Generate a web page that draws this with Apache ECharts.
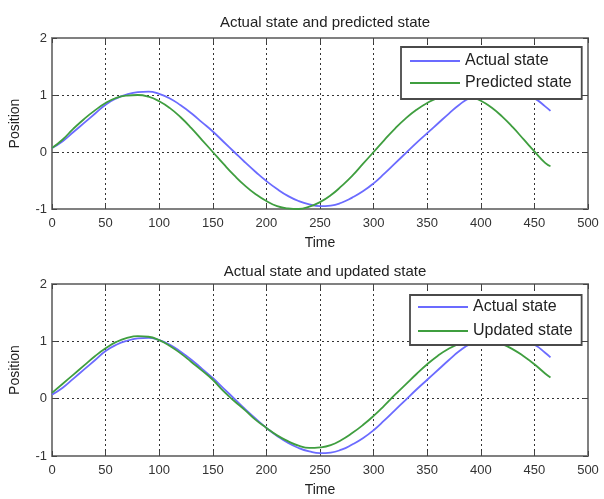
<!DOCTYPE html>
<html><head><meta charset="utf-8">
<script src="https://cdn.jsdelivr.net/npm/echarts@6/dist/echarts.min.js"></script>
<style>html,body{margin:0;padding:0;background:#fff}#c{width:604px;height:499px}</style>
</head><body><div id="c"></div>
<script>
const titles = ['Actual state and predicted state', 'Actual state and updated state'];
const seriesNames = ['Actual state', 'Predicted state', 'Updated state'];
const time = [0,10,20,30,40,50,60,70,80,90,100,110,120,130,140,150,160,170,180,190,200,210,220,230,240,250,260,270,280,290,300,310,320,330,340,350,360,370,380,390,400,410,420,430,440,450,460,465];
const actual = [0.07,0.19,0.35,0.51,0.67,0.83,0.94,1.01,1.05,1.06,1.02,0.94,0.82,0.68,0.52,0.36,0.18,0.0,-0.18,-0.35,-0.51,-0.65,-0.77,-0.86,-0.92,-0.95,-0.94,-0.89,-0.80,-0.69,-0.55,-0.38,-0.20,-0.02,0.16,0.33,0.50,0.67,0.83,0.95,0.99,1.01,1.02,1.01,0.99,0.94,0.80,0.72];
const predicted = [0.07,0.22,0.41,0.58,0.73,0.86,0.95,0.99,1.0,0.97,0.89,0.77,0.61,0.42,0.21,0.0,-0.21,-0.41,-0.59,-0.74,-0.86,-0.95,-0.99,-1.0,-0.96,-0.88,-0.76,-0.6,-0.42,-0.21,0.0,0.21,0.41,0.59,0.74,0.86,0.95,0.99,1.0,0.97,0.9,0.78,0.62,0.43,0.22,0.01,-0.19,-0.25];
const updated = [0.1,0.26,0.42,0.58,0.74,0.88,0.99,1.06,1.09,1.08,1.02,0.92,0.79,0.64,0.49,0.33,0.13,-0.04,-0.2,-0.37,-0.51,-0.64,-0.74,-0.82,-0.86,-0.85,-0.81,-0.72,-0.6,-0.46,-0.3,-0.12,0.07,0.25,0.43,0.6,0.75,0.87,0.96,1.01,1.03,1.01,0.95,0.86,0.74,0.6,0.44,0.37];
const xMin = 0, xMax = 500, xStep = 50;
const yMin = -1, yMax = 2, yStep = 1;

const FONT = 'Liberation Sans, Arial, sans-serif';
const BLUE = '#6b6bff';
const GREEN = '#3f9e3f';
const gridsPos = [{top: 38, bottom: 290}, {top: 284, bottom: 43}];

const pairs = (ys) => time.map((t, i) => [t, ys[i]]);
const option = {
  animation: false,
  backgroundColor: '#fff',
  title: titles.map((t, i) => ({
    text: t, left: 320, textAlign: 'center', top: i === 0 ? 10 : 259,
    textStyle: {fontFamily: FONT, fontSize: 15, fontWeight: 'normal', color: '#222'}
  })),
  grid: gridsPos.map(g => ({left: 52, right: 16, top: g.top, bottom: g.bottom})),
  xAxis: [],
  yAxis: [],
  legend: [
    {data: [seriesNames[0], seriesNames[1]], orient: 'vertical', left: 401, top: 47,
     padding: [6, 10, 8, 9], itemGap: 6, itemWidth: 50, itemHeight: 2, icon: 'rect',
     backgroundColor: '#fff', borderColor: '#4a4a4a', borderWidth: 1.8,
     textStyle: {fontFamily: FONT, fontSize: 16, color: '#222'}},
    {data: [seriesNames[0], seriesNames[2]], orient: 'vertical', left: 410, top: 295,
     padding: [4, 9, 6, 8], itemGap: 8, itemWidth: 50, itemHeight: 2, icon: 'rect',
     backgroundColor: '#fff', borderColor: '#4a4a4a', borderWidth: 1.8,
     textStyle: {fontFamily: FONT, fontSize: 16, color: '#222'}}
  ],
  series: []
};
const lineCol = '#808080';
for (let g = 0; g < 2; g++) {
  option.xAxis.push({
    type: 'value', gridIndex: g, min: xMin, max: xMax, interval: xStep, position: 'bottom',
    name: 'Time', nameLocation: 'middle', nameGap: 27,
    nameTextStyle: {fontFamily: FONT, fontSize: 14, color: '#222'},
    axisLine: {show: true, onZero: false, lineStyle: {color: lineCol, width: 2}},
    axisTick: {show: true, inside: true, length: 5, lineStyle: {color: '#444'}},
    axisLabel: {fontFamily: FONT, fontSize: 13, color: '#333', margin: 8},
    splitLine: {show: true, lineStyle: {color: '#333', type: [2, 3], width: 1}}
  });
  option.xAxis.push({
    type: 'value', gridIndex: g, min: xMin, max: xMax, interval: xStep, position: 'top',
    axisLine: {show: true, onZero: false, lineStyle: {color: lineCol, width: 2}},
    axisTick: {show: true, inside: true, length: 5, lineStyle: {color: '#444'}},
    axisLabel: {show: false}, splitLine: {show: false}
  });
  option.yAxis.push({
    type: 'value', gridIndex: g, min: yMin, max: yMax, interval: yStep, position: 'left',
    name: 'Position', nameLocation: 'middle', nameGap: 30,
    nameTextStyle: {fontFamily: FONT, fontSize: 14, color: '#222'},
    axisLine: {show: true, onZero: false, lineStyle: {color: lineCol, width: 2}},
    axisTick: {show: true, inside: true, length: 5, lineStyle: {color: '#444'}},
    axisLabel: {fontFamily: FONT, fontSize: 13, color: '#333', margin: 5},
    splitLine: {show: true, lineStyle: {color: '#333', type: [2, 3], width: 1}}
  });
  option.yAxis.push({
    type: 'value', gridIndex: g, min: yMin, max: yMax, interval: yStep, position: 'right',
    axisLine: {show: true, onZero: false, lineStyle: {color: lineCol, width: 2}},
    axisTick: {show: true, inside: true, length: 5, lineStyle: {color: '#444'}},
    axisLabel: {show: false}, splitLine: {show: false}
  });
}
const mk = (name, data, color, g) => ({
  type: 'line', name, data: pairs(data), xAxisIndex: g * 2, yAxisIndex: g * 2,
  showSymbol: false, symbol: 'none', smooth: true, color,
  lineStyle: {color, width: 1.8}
});
option.series.push(mk(seriesNames[0], actual, BLUE, 0));
option.series.push(mk(seriesNames[1], predicted, GREEN, 0));
option.series.push(mk(seriesNames[0], actual, BLUE, 1));
option.series.push(mk(seriesNames[2], updated, GREEN, 1));
echarts.init(document.getElementById('c'), null, {renderer: 'canvas'}).setOption(option);
</script></body></html>
